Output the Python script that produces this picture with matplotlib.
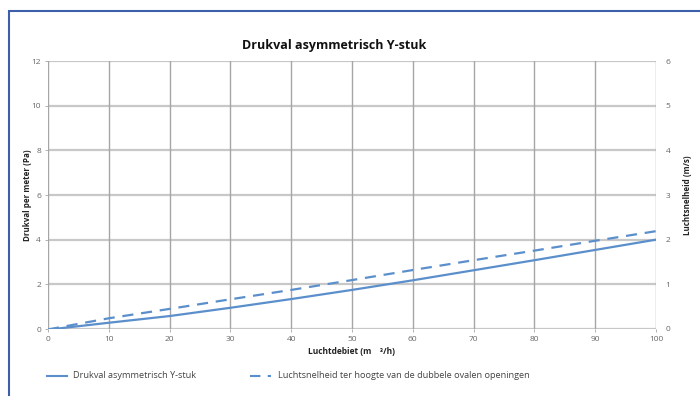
import numpy as np
import matplotlib.pyplot as plt
from matplotlib.lines import Line2D
from matplotlib.patches import Rectangle

# Luchtdebiet (m3/h)
debiet = [0, 10, 20, 30, 40, 50, 60, 70, 80, 90, 100]
# Drukval per meter (Pa), linker as
drukval = [-0.03, 0.28, 0.58, 0.95, 1.34, 1.75, 2.18, 2.63, 3.08, 3.54, 4.0]
# Luchtsnelheid (m/s), rechter as
snelheid = [-0.01, 0.24, 0.45, 0.665, 0.875, 1.095, 1.32, 1.54, 1.755, 1.975, 2.19]

x_ticks = [0, 10, 20, 30, 40, 50, 60, 70, 80, 90, 100]
y_left_ticks = [0, 2, 4, 6, 8, 10, 12]
y_right_ticks = [0, 1, 2, 3, 4, 5, 6]

line_color = "#5b8fcc"
tick_color = "#666666"
font = ["Open Sans", "DejaVu Sans"]

fig = plt.figure(figsize=(7.0, 3.96), dpi=100)
ax = fig.add_axes([48 / 700, 1 - 329 / 396, 608 / 700, 268 / 396])
ax2 = ax.twinx()

# grid: light horizontal, darker vertical
for y in y_left_ticks:
    ax.axhline(y, color="#c8c8c8", linewidth=1.6, zorder=1)
for x in x_ticks:
    ax.axvline(x, color="#a6a6a6", linewidth=1.0, zorder=1)

ax.plot(debiet, drukval, color=line_color, linewidth=1.6, zorder=3)
ax2.plot(debiet, snelheid, color=line_color, linewidth=1.6,
         linestyle=(0, (5, 3.5)), zorder=3)

ax.set_xlim(0, 100)
ax.set_ylim(0, 12)
ax2.set_ylim(0, 6)
ax.set_xticks(x_ticks)
ax.set_yticks(y_left_ticks)
ax2.set_yticks(y_right_ticks)

for a in (ax, ax2):
    for s in a.spines.values():
        s.set_visible(False)
    a.tick_params(length=2, width=0.6, color="#a6a6a6", labelsize=6,
                  labelcolor=tick_color, pad=3)
    for lbl in a.get_xticklabels() + a.get_yticklabels():
        lbl.set_family(font)
ax2.tick_params(length=0, pad=7)

ax.set_xlabel("Luchtdebiet (m    ³/h)", fontsize=6, fontweight="bold",
              family=font, color="#222222", labelpad=3)
ax.set_ylabel("Drukval per meter (Pa)", fontsize=5.8, fontweight="bold",
              family=font, color="#222222", labelpad=0)
ax2.set_ylabel("Luchtsnelheid (m/s)", fontsize=5.8, fontweight="bold",
               family=font, color="#222222", rotation=90, labelpad=9)

fig.text(334 / 700, 1 - 45 / 396, "Drukval asymmetrisch Y-stuk", ha="center",
         va="center", fontsize=9, fontweight="bold", family=font, color="#111111")

# legend row underneath the chart
ly = 1 - 376 / 396
fig.add_artist(Line2D([47 / 700, 67 / 700], [ly, ly], color=line_color, linewidth=1.5))
fig.text(73 / 700, ly, "Drukval asymmetrisch Y-stuk", va="center", fontsize=6.6,
         family=font, color="#444444")
fig.add_artist(Line2D([250 / 700, 271 / 700], [ly, ly], color=line_color, linewidth=1.5,
                      linestyle=(0, (5, 3.5))))
fig.text(278 / 700, ly, "Luchtsnelheid ter hoogte van de dubbele ovalen openingen",
         va="center", fontsize=6.6, family=font, color="#444444")

# blue frame around the figure (right and bottom edges fall outside)
fig.add_artist(Rectangle((9 / 700, -0.05), 1.0, 1 - 11 / 396 + 0.05,
                         transform=fig.transFigure, fill=False,
                         edgecolor="#3b5fa8", linewidth=1.5))

fig.savefig("out.png", dpi=100)
